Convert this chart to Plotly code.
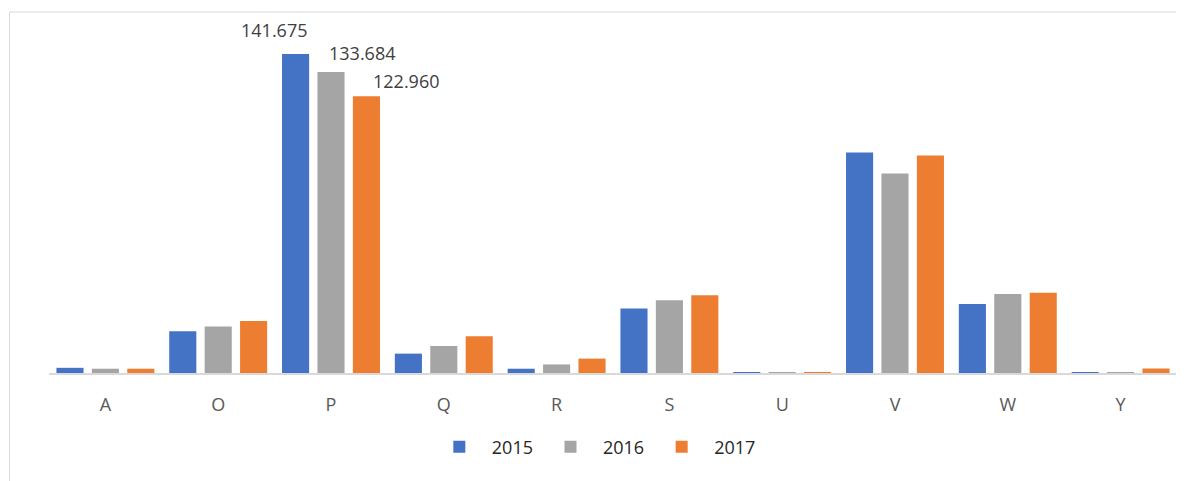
import plotly.graph_objects as go

categories = ["A", "O", "P", "Q", "R", "S", "U", "V", "W", "Y"]
years = ["2015", "2016", "2017"]
values_2015 = [2.3, 18.5, 141.675, 8.6, 1.9, 28.7, 0.15, 97.9, 30.7, 0.1]
values_2016 = [1.9, 20.6, 133.684, 12.0, 3.8, 32.3, 0.15, 88.6, 35.1, 0.3]
values_2017 = [1.9, 23.1, 122.960, 16.3, 6.4, 34.5, 0.1, 96.6, 35.6, 2.0]
colors = ["#4472C4", "#A5A5A5", "#ED7D31"]
labelled_category = "P"
label_texts = ["141.675", "133.684", "122.960"]

series = [values_2015, values_2016, values_2017]
FONT = "Open Sans"

fig = go.Figure()
for name, vals, col in zip(years, series, colors):
    fig.add_trace(go.Bar(x=categories, y=vals, name=name,
                         marker=dict(color=col, line=dict(width=0))))

# data labels for the labelled category (manually offset like in the source)
xshifts = [-57, 31, 75]
yshifts = [24, 19, 15]
idx = categories.index(labelled_category)
for vals, txt, xs, ys in zip(series, label_texts, xshifts, yshifts):
    fig.add_annotation(x=labelled_category, y=vals[idx], text=txt, showarrow=False,
                       xshift=xs, yshift=ys, yanchor="middle",
                       font=dict(family=FONT, size=18, color="#404040"))

# outer chart border (top and left edges visible)
fig.add_shape(type="rect", xref="paper", yref="paper", x0=-0.035, x1=1.05,
              y0=-0.4, y1=1.0226, line=dict(color="#D9D9D9", width=1),
              fillcolor="rgba(0,0,0,0)", layer="below")

fig.update_layout(
    width=1176, height=473,
    margin=dict(l=41, r=7, t=12, b=107.5),
    paper_bgcolor="white", plot_bgcolor="white",
    barmode="group", bargap=0.058, bargroupgap=0.235,
    showlegend=True,
    legend=dict(orientation="h", x=0.483, xanchor="center", y=-0.21, yanchor="middle",
                font=dict(family=FONT, size=18, color="#262626"), itemwidth=55,
                traceorder="normal"),
    font=dict(family=FONT),
    xaxis=dict(showline=True, linecolor="#D9D9D9", linewidth=1.5, showgrid=False,
               ticks="outside", ticklen=15, tickcolor="rgba(0,0,0,0)",
               tickfont=dict(family=FONT, size=18, color="#595959"), fixedrange=True),
    yaxis=dict(range=[0, 156.8], visible=False, showgrid=False, zeroline=False),
)

fig.write_html("out.html")
